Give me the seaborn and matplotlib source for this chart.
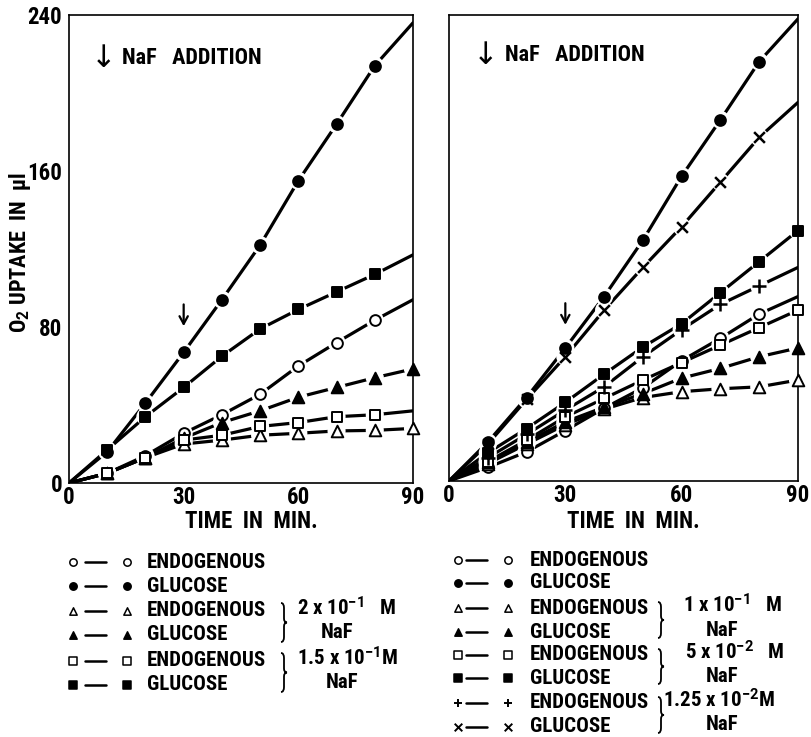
import matplotlib
matplotlib.use("Agg")
import matplotlib.pyplot as plt
from matplotlib.path import Path
from matplotlib.patches import PathPatch
import seaborn as sns

# ---------------- data ----------------
times = [10, 20, 30, 40, 50, 60, 70, 80, 90]
x_ticks = [0, 30, 60, 90]
y_ticks = [0, 80, 160, 240]

# Left panel (values at 10..; "end" = line value at 90 min, no marker)
left_endo = [5, 14, 25.5, 35, 45.5, 60, 72, 83.5]
left_endo_end = 94
left_gluc = [16, 41, 67, 94, 122, 155, 184, 214]
left_gluc_end = 236
left_endo_naf2 = [5, 13, 20, 22, 24.5, 25.5, 26.7, 27, 28]
left_gluc_naf2 = [5, 13, 23, 31, 37, 44, 49, 54, 58.5]
left_endo_naf15 = [5, 13, 22, 24.5, 29, 31, 34, 35]
left_endo_naf15_end = 37
left_gluc_naf15 = [17, 34, 49, 65, 79, 89, 98, 107]
left_gluc_naf15_end = 117

# Right panel
right_endo = [7, 15, 26, 37.5, 48, 62, 73.5, 86]
right_endo_end = 95
right_gluc = [20, 43, 68.5, 95, 124, 157, 186, 216]
right_gluc_end = 238
right_endo_naf1 = [9, 19, 29, 37, 43, 46, 47.5, 48.5, 52]
right_gluc_naf1 = [10, 20, 30.5, 38, 45, 53, 58, 64, 68.5]
right_endo_naf5 = [10, 21, 33, 42.5, 52, 61, 70, 79, 88]
right_gluc_naf5 = [14.5, 27, 40.5, 55, 69, 81, 97, 113, 129]
right_endo_naf125 = [12, 24, 36.5, 48.5, 64, 78, 91, 100.5]
right_endo_naf125_end = 110
right_gluc_naf125 = [19, 42, 64, 88, 110, 131, 154, 177]
right_gluc_naf125_end = 195

left_legend_labels = ["ENDOGENOUS", "GLUCOSE", "ENDOGENOUS", "GLUCOSE",
                      "ENDOGENOUS", "GLUCOSE"]
left_group_labels = [r"2 x 10$^{-1}$   M", r"1.5 x 10$^{-1}$M"]
right_legend_labels = ["ENDOGENOUS", "GLUCOSE", "ENDOGENOUS", "GLUCOSE",
                       "ENDOGENOUS", "GLUCOSE", "ENDOGENOUS", "GLUCOSE"]
right_group_labels = [r"1 x 10$^{-1}$   M", r"5 x 10$^{-2}$   M",
                      r"1.25 x 10$^{-2}$M"]
group_sub_label = "NaF"
x_label = "TIME  IN  MIN."
y_label = r"O$_{2}$ UPTAKE  IN  μl"
addition_label = "NaF   ADDITION"

# ---------------- styles ----------------
sns.set_style("white")
FAM = ["Roboto Condensed", "Liberation Sans Narrow", "Roboto", "DejaVu Sans"]
plt.rcParams["font.family"] = FAM
plt.rcParams["font.weight"] = "bold"
plt.rcParams["text.color"] = "black"
plt.rcParams["axes.labelcolor"] = "black"
plt.rcParams["xtick.color"] = "black"
plt.rcParams["ytick.color"] = "black"
plt.rcParams["mathtext.fontset"] = "custom"
plt.rcParams["mathtext.rm"] = "Roboto:bold"
plt.rcParams["mathtext.it"] = "Roboto:bold"
plt.rcParams["mathtext.bf"] = "Roboto:bold"

# marker, filled, size
STY = {
    "o_open": ("o", False, 60),
    "o_fill": ("o", True, 60),
    "t_open": ("^", False, 70),
    "t_fill": ("^", True, 70),
    "s_open": ("s", False, 55),
    "s_fill": ("s", True, 55),
    "plus": ("+", True, 90),
    "cross": ("x", True, 60),
}

left_series = [
    (left_endo, left_endo_end, "o_open"),
    (left_gluc, left_gluc_end, "o_fill"),
    (left_endo_naf2, None, "t_open"),
    (left_gluc_naf2, None, "t_fill"),
    (left_endo_naf15, left_endo_naf15_end, "s_open"),
    (left_gluc_naf15, left_gluc_naf15_end, "s_fill"),
]
right_series = [
    (right_endo, right_endo_end, "o_open"),
    (right_gluc, right_gluc_end, "o_fill"),
    (right_endo_naf1, None, "t_open"),
    (right_gluc_naf1, None, "t_fill"),
    (right_endo_naf5, None, "s_open"),
    (right_gluc_naf5, None, "s_fill"),
    (right_endo_naf125, right_endo_naf125_end, "plus"),
    (right_gluc_naf125, right_gluc_naf125_end, "cross"),
]

W, H = 812, 737
fig = plt.figure(figsize=(W / 100, H / 100), dpi=100)
fig.patch.set_facecolor("white")


def px_axes(x0, x1, ytop, ybot):
    return fig.add_axes([x0 / W, 1 - ybot / H, (x1 - x0) / W, (ybot - ytop) / H])


ax1 = px_axes(69, 413, 15, 483)
ax2 = px_axes(449, 798, 15, 481)


def draw_series(ax, vals, end, key):
    marker, filled, size = STY[key]
    xs = times[:len(vals)]
    lx = [0] + xs + ([90] if end is not None else [])
    ly = [0] + list(vals) + ([end] if end is not None else [])
    sns.lineplot(x=lx, y=ly, ax=ax, color="black", linewidth=2.3,
                 estimator=None, sort=False, legend=False, zorder=1)
    sns.scatterplot(x=xs, y=vals, ax=ax, marker="o", s=170, color="white",
                    edgecolor="none", linewidth=0, zorder=2, legend=False,
                    clip_on=False)
    if marker in ("+", "x"):
        sns.scatterplot(x=xs, y=vals, ax=ax, marker=marker, s=size,
                        color="black", linewidth=1.8, zorder=3, legend=False,
                        clip_on=False)
    else:
        sns.scatterplot(x=xs, y=vals, ax=ax, marker=marker, s=size,
                        color="black" if filled else "white",
                        edgecolor="black", linewidth=1.4, zorder=3,
                        legend=False, clip_on=False)


for ax, series in ((ax1, left_series), (ax2, right_series)):
    for vals, end, key in series:
        draw_series(ax, vals, end, key)
    ax.set_xlim(0, 90)
    ax.set_ylim(0, 240)
    ax.set_xticks(x_ticks)
    ax.set_yticks(y_ticks)
    ax.set_xlabel("")
    ax.set_ylabel("")
    for sp in ax.spines.values():
        sp.set_visible(True)
        sp.set_linewidth(1.2)
        sp.set_color("black")
    ax.tick_params(direction="in", length=9, width=1.2, labelsize=16.5,
                   colors="black")
    ax.tick_params(axis="x", pad=2)
    ax.tick_params(axis="y", pad=5)
    for lab in ax.get_xticklabels() + ax.get_yticklabels():
        lab.set_fontweight("bold")

ax2.set_yticklabels([])

# arrows at the NaF addition (30 min)
for ax in (ax1, ax2):
    ax.annotate("", xy=(30, 79), xytext=(30, 93),
                arrowprops=dict(arrowstyle="->,head_length=0.55,head_width=0.3",
                                lw=1.6, color="black"))

# "NaF ADDITION" headers
for ax, xa, xt, yy in ((ax1, 0.099, 0.154, 0.908), (ax2, 0.106, 0.16, 0.914)):
    ax.text(xa, yy, "↓", transform=ax.transAxes, ha="center", va="center",
            fontsize=22, fontweight="normal", family=["DejaVu Sans"])
    ax.text(xt, yy, addition_label, transform=ax.transAxes, ha="left",
            va="center", fontsize=16, fontweight="bold")

# axis labels
fig.text(251 / W, 1 - 522 / H, x_label, ha="center", va="center",
         fontsize=16.5, fontweight="bold")
fig.text(633 / W, 1 - 521 / H, x_label, ha="center", va="center",
         fontsize=16.5, fontweight="bold")
fig.text(20 / W, 1 - 252 / H, y_label, ha="center", va="center",
         rotation=90, fontsize=16, fontweight="bold")

# ---------------- legends (pixel coordinates) ----------------
lax = fig.add_axes([0, 0, 1, 200 / H])
lax.set_xlim(0, W)
lax.set_ylim(H, H - 200)
lax.axis("off")

left_keys = ["o_open", "o_fill", "t_open", "t_fill", "s_open", "s_fill"]
right_keys = ["o_open", "o_fill", "t_open", "t_fill", "s_open", "s_fill",
              "plus", "cross"]
left_rows = [562, 586, 611, 635, 661, 685]
right_rows = [560, 583, 608, 632, 655, 678, 703, 727]


def legend_row(xm1, xl0, xl1, xm2, xt, y, key, label):
    marker, filled, size = STY[key]
    lax.plot([xl0, xl1], [y, y], color="black", lw=1.8)
    for xm in (xm1, xm2):
        if marker in ("+", "x"):
            lax.scatter([xm], [y], marker=marker, s=30, color="black",
                        linewidth=1.4, clip_on=False)
        else:
            lax.scatter([xm], [y], marker=marker, s=28,
                        color="black" if filled else "white",
                        edgecolor="black", linewidth=1.1, clip_on=False)
    lax.text(xt, y, label, ha="left", va="center", fontsize=15,
             fontweight="bold")


def brace(x, y0, y1, w=6):
    ym = (y0 + y1) / 2
    xm = x + w / 2
    verts = [(x, y0), (xm, y0), (xm, y0 + 5), (xm, ym - 4), (xm, ym),
             (x + w, ym), (xm, ym), (xm, ym + 4), (xm, y1 - 5), (xm, y1),
             (x, y1)]
    codes = [Path.MOVETO, Path.CURVE3, Path.CURVE3, Path.LINETO,
             Path.CURVE3, Path.CURVE3, Path.CURVE3, Path.CURVE3,
             Path.LINETO, Path.CURVE3, Path.CURVE3]
    lax.add_patch(PathPatch(Path(verts, codes), fill=False, lw=1.3,
                            edgecolor="black"))


for y, key, lab in zip(left_rows, left_keys, left_legend_labels):
    legend_row(73, 85, 106, 127, 147, y, key, lab)
for y, key, lab in zip(right_rows, right_keys, right_legend_labels):
    legend_row(458, 466, 487, 508, 530, y, key, lab)

left_group_x = [297, 297]
for i, lab in enumerate(left_group_labels):
    r0, r1 = left_rows[2 + 2 * i], left_rows[3 + 2 * i]
    brace(281, r0 - 8, r1 + 7)
    lax.text(left_group_x[i], r0 - 3, lab, ha="left", va="center",
             fontsize=15, fontweight="bold")
    lax.text(337 + 5 * i, r1 - 2, group_sub_label, ha="center", va="center",
             fontsize=15, fontweight="bold")

right_group_x = [683, 685, 663]
for i, lab in enumerate(right_group_labels):
    r0, r1 = right_rows[2 + 2 * i], right_rows[3 + 2 * i]
    brace(658, r0 - 6, r1 + 6)
    lax.text(right_group_x[i], r0 - 3, lab, ha="left", va="center",
             fontsize=15, fontweight="bold")
    lax.text(722, r1 - 2, group_sub_label, ha="center", va="center",
             fontsize=15, fontweight="bold")

fig.savefig("out.png", dpi=100, facecolor="white")
